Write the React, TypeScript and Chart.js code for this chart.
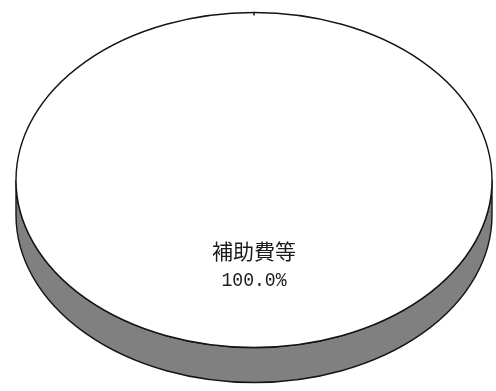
import React, { useEffect, useRef } from "react";
import { Chart, registerables } from "chart.js";

Chart.register(...registerables);

const categories: string[] = ["補助費等"];
const values: number[] = [100];

const SQUASH = 167.5 / 238; // vertical squash of the tilted pie
const TOP_CY = 180; // on-screen centre of the top face
const DEPTH = 35; // thickness of the 3D side
const SIDE_COLOR = "#808080";
const EDGE_COLOR = "#141414";

const pie3d = {
  id: "pie3d",
  beforeDatasetsDraw(chart: any) {
    const arc = chart.getDatasetMeta(0).data[0];
    if (!arc) return;
    const { x, y, outerRadius } = arc.getProps(["x", "y", "outerRadius"], true);
    const rx = outerRadius;
    const ry = outerRadius * SQUASH;
    const ctx = chart.ctx as CanvasRenderingContext2D;
    ctx.save();
    ctx.beginPath();
    ctx.ellipse(x, TOP_CY, rx, ry, 0, 0, Math.PI);
    ctx.lineTo(x - rx, TOP_CY + DEPTH);
    ctx.ellipse(x, TOP_CY + DEPTH, rx, ry, 0, Math.PI, 0, true);
    ctx.closePath();
    ctx.fillStyle = SIDE_COLOR;
    ctx.fill();
    ctx.lineWidth = 1.4;
    ctx.strokeStyle = EDGE_COLOR;
    ctx.stroke();
    ctx.restore();
    ctx.save();
    ctx.translate(0, TOP_CY);
    ctx.scale(1, SQUASH);
    ctx.translate(0, -y);
  },
  afterDatasetsDraw(chart: any) {
    const ctx = chart.ctx as CanvasRenderingContext2D;
    ctx.restore();
    const meta = chart.getDatasetMeta(0);
    const arc = meta.data[0];
    if (!arc) return;
    const { x, outerRadius } = arc.getProps(["x", "outerRadius"], true);
    const rx = outerRadius;
    const ry = outerRadius * SQUASH;
    ctx.save();
    ctx.beginPath();
    ctx.ellipse(x, TOP_CY, rx, ry, 0, 0, Math.PI * 2);
    ctx.lineWidth = 1.4;
    ctx.strokeStyle = EDGE_COLOR;
    ctx.stroke();
    // slice start tick
    ctx.beginPath();
    ctx.moveTo(x, TOP_CY - ry);
    ctx.lineTo(x, TOP_CY - ry + 3);
    ctx.lineWidth = 1.5;
    ctx.stroke();
    // labels
    const total = values.reduce((a, b) => a + b, 0);
    const pct = ((values[0] / total) * 100).toFixed(1) + "%";
    ctx.fillStyle = "#1a1a1a";
    ctx.textAlign = "center";
    ctx.textBaseline = "middle";
    ctx.font = '21px "Noto Sans CJK JP", sans-serif';
    ctx.fillText(categories[0], x, TOP_CY + 71);
    ctx.save();
    ctx.translate(x, TOP_CY + 100);
    ctx.scale(0.86, 1);
    ctx.font = '21px "Liberation Mono", monospace';
    ctx.fillText(pct, 0, 0);
    ctx.restore();
    ctx.restore();
  },
};

export default function App() {
  const ref = useRef<HTMLCanvasElement | null>(null);
  useEffect(() => {
    if (!ref.current) return;
    const chart = new Chart(ref.current, {
      type: "pie",
      data: {
        labels: categories,
        datasets: [
          {
            data: values,
            backgroundColor: ["#ffffff"],
            borderWidth: 0,
            clip: false as any,
          },
        ],
      },
      options: {
        responsive: false,
        animation: false,
        layout: { padding: { left: 16, right: 4, top: 10, bottom: 10 } },
        plugins: {
          legend: { display: false },
          tooltip: { enabled: false },
        },
      },
      plugins: [pie3d],
    });
    return () => chart.destroy();
  }, []);
  return (
    <div
      style={{
        position: "absolute",
        left: 0,
        top: 0,
        width: 496,
        height: 391,
        overflow: "hidden",
        background: "#fff",
      }}
    >
      <canvas ref={ref} width={496} height={496} style={{ display: "block" }} />
    </div>
  );
}
